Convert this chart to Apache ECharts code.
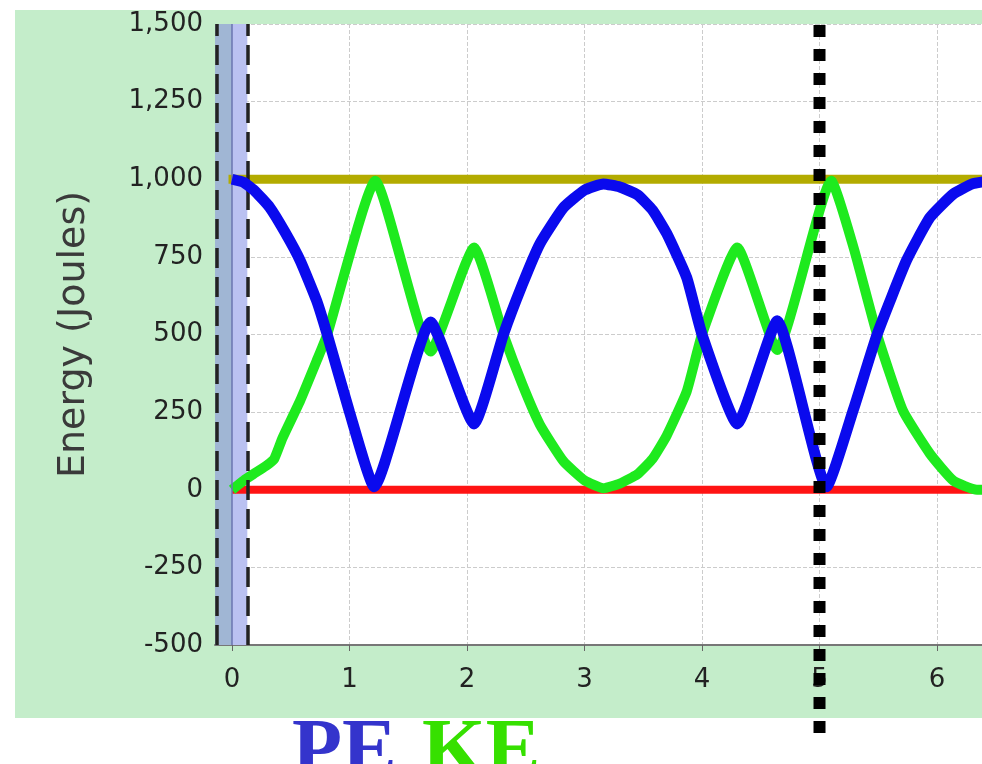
<!DOCTYPE html>
<html>
<head>
<meta charset="utf-8">
<script src="https://cdn.jsdelivr.net/npm/echarts@6/dist/echarts.min.js"></script>
<style>
  html, body { margin: 0; padding: 0; background: #fff; }
  #main { width: 982px; height: 764px; }
</style>
</head>
<body>
<div id="main"></div>
<script>
// time (s) and energy (J)
var blueT = [0, 0.1, 0.2, 0.32, 0.45, 0.58, 0.72, 0.81, 1.0, 1.21, 1.69, 2.06, 2.31, 2.47, 2.62, 2.82, 3.0, 3.16, 3.3, 3.45, 3.58, 3.7, 3.87, 4.0, 4.3, 4.64, 5.06, 5.29, 5.49, 5.74, 5.94, 6.14, 6.3, 6.45];
var blueE = [1000, 990, 960, 910, 830, 738, 609, 500, 250, 10, 540, 212, 500, 660, 792, 908, 965, 985, 975, 950, 900, 825, 683, 500, 212, 544, 10, 260, 500, 738, 877, 953, 985, 995];

var greenT = [0, 0.1, 0.2, 0.3, 0.36, 0.43, 0.58, 0.72, 0.81, 1.22, 1.69, 2.06, 2.31, 2.47, 2.62, 2.82, 3.0, 3.16, 3.3, 3.45, 3.58, 3.7, 3.87, 4.0, 4.3, 4.64, 5.1, 5.29, 5.49, 5.71, 5.94, 6.14, 6.34, 6.45];
var greenE = [0, 30, 55, 80, 100, 167, 287, 415, 500, 995, 445, 780, 500, 340, 210, 92, 30, 5, 20, 50, 100, 175, 317, 500, 780, 450, 995, 780, 500, 255, 116, 29, 0, 0];

var totalT = [-0.03, 6.45];
var totalE = [1000, 1000];
var thermalT = [0, 6.45];
var thermalE = [0, 0];

var xTicks = [0, 1, 2, 3, 4, 5, 6];
var xMin = -0.145;
var bandStart = 0.13;   // right edge of shaded band
var markT = 5;          // dotted cursor

function pairs(t, e) {
    var out = [];
    for (var i = 0; i < t.length; i++) out.push([t[i], e[i]]);
    return out;
}

var dashed = { color: '#222', width: 3.5, type: [20, 9] };

var chart = echarts.init(document.getElementById('main'));
var option = {
    backgroundColor: '#fff',
    animation: false,
    grid: {
        left: 215, top: 24, right: 0, bottom: 119,
        show: true, backgroundColor: '#fff', borderWidth: 0
    },
    xAxis: {
        type: 'value',
        min: xMin,
        max: 6.383,
        axisLine: { show: true, onZero: false, lineStyle: { color: '#777', width: 2 } },
        axisTick: { show: true, length: 6, customValues: xTicks, lineStyle: { color: '#666' } },
        axisLabel: {
            customValues: xTicks, margin: 22,
            fontSize: 26, color: '#222', fontFamily: 'DejaVu Sans'
        },
        splitLine: { show: true, lineStyle: { color: '#ccc', type: 'dashed' } }
    },
    yAxis: {
        type: 'value',
        min: -500, max: 1500, interval: 250,
        name: 'Energy (Joules)',
        nameLocation: 'middle',
        nameGap: 122,
        nameTextStyle: { fontSize: 38, color: '#3a3a3a', fontFamily: 'DejaVu Sans' },
        axisLine: { show: false },
        axisTick: { show: false },
        axisLabel: {
            margin: 12, fontSize: 26, color: '#222', fontFamily: 'DejaVu Sans',
            formatter: function (v) { return v.toLocaleString('en-US'); }
        },
        splitLine: { show: true, lineStyle: { color: '#ccc', type: 'dashed' } }
    },
    series: [
        {
            type: 'line', name: 'thermal', data: pairs(thermalT, thermalE),
            symbol: 'none', lineStyle: { color: '#ff1414', width: 8 }, z: 2,
            markArea: {
                silent: true,
                data: [
                    [{ xAxis: xMin, itemStyle: { color: '#a0b6d4' } }, { xAxis: 0 }],
                    [{ xAxis: 0, itemStyle: { color: '#bac1f1' } }, { xAxis: bandStart }]
                ]
            },
            markLine: {
                silent: true, symbol: 'none', label: { show: false },
                data: [
                    { xAxis: 0, lineStyle: { color: '#6a74b0', width: 1.5, type: 'solid' } },
                    { xAxis: xMin + 0.012, lineStyle: dashed },
                    { xAxis: bandStart, lineStyle: dashed }
                ]
            }
        },
        {
            type: 'line', name: 'total', data: pairs(totalT, totalE),
            symbol: 'none', lineStyle: { color: '#b3ab00', width: 9 }, z: 3
        },
        {
            type: 'line', name: 'KE', data: pairs(greenT, greenE),
            symbol: 'none', smooth: 0.15, lineStyle: { color: '#1eea1e', width: 10 }, z: 4
        },
        {
            type: 'line', name: 'PE', data: pairs(blueT, blueE),
            symbol: 'none', smooth: 0.15, lineStyle: { color: '#0a0aee', width: 11 }, z: 5
        }
    ],
    graphic: [
        {
            type: 'rect', z: -10, silent: true,
            shape: { x: 15, y: 10, width: 967, height: 708 },
            style: { fill: '#c4edca' }
        },
        {
            type: 'text', silent: true,
            style: {
                text: 'PE', x: 292, y: 754, fill: '#3434cc', verticalAlign: 'middle',
                fontSize: 82, fontWeight: 'bold', fontFamily: 'Liberation Serif'
            }
        },
        {
            type: 'text', silent: true,
            style: {
                text: 'KE', x: 422, y: 754, fill: '#36e000', verticalAlign: 'middle',
                fontSize: 82, fontWeight: 'bold', fontFamily: 'Liberation Serif'
            }
        }
    ]
};
chart.setOption(option);

// dotted cursor line, runs past the plot into the label strip
var cx = chart.convertToPixel({ xAxisIndex: 0 }, markT);
chart.setOption({
    graphic: [
        {}, {}, {},
        {
            type: 'line', silent: true, z: 100,
            shape: { x1: cx, y1: 25, x2: cx, y2: 733 },
            style: { stroke: '#000', lineWidth: 12, lineDash: [12, 12] }
        }
    ]
});
</script>
</body>
</html>
